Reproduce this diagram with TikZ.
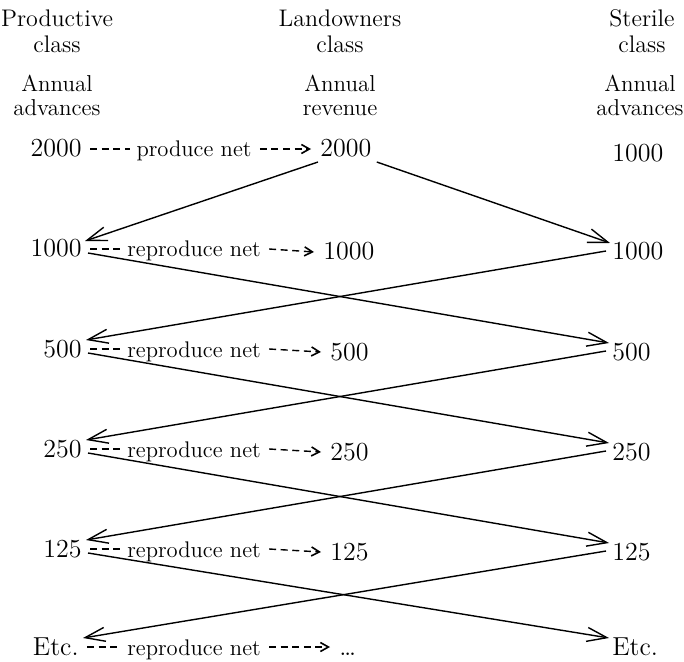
\documentclass[tikz,border=0pt]{standalone}
\usetikzlibrary{arrows.meta,calc}
\begin{document}
\begin{tikzpicture}[x=0.5pt,y=-0.5pt,
  hdr/.style={font=\fontsize{12}{14}\selectfont,inner sep=0pt,anchor=base},
  sub/.style={font=\fontsize{11.5}{14}\selectfont,inner sep=0pt,anchor=base},
  lab/.style={font=\fontsize{11.3}{14}\selectfont,inner sep=0pt,anchor=base},
  numl/.style={font=\fontsize{13}{15}\selectfont,inner sep=0pt,anchor=base east},
  numr/.style={font=\fontsize{13}{15}\selectfont,inner sep=0pt,anchor=base west},
  flow/.style={line width=0.7pt,-{Straight Barb[length=10pt,width=7pt,line width=0.7pt]}},
  dashl/.style={line width=0.7pt,dash pattern=on 3.5pt off 2.3pt},
  dasharr/.style={line width=0.7pt,dash pattern=on 3.5pt off 2.3pt,-{Straight Barb[length=4pt,width=4.5pt,line width=0.8pt]}}]
\useasboundingbox (0,0) rectangle (684,662);
% headers
\node[hdr] (h1a) at (57,27) {Productive};
\node[hdr] (h1b) at (57,53) {class};
\node[hdr] (h2a) at (340,27) {Landowners};
\node[hdr] (h2b) at (340,53) {class};
\node[hdr] (h3a) at (642,27) {Sterile};
\node[hdr] (h3b) at (642,53) {class};
\node[sub] (s1a) at (57,92) {Annual};
\node[sub] (s1b) at (57,116) {advances};
\node[sub] (s2a) at (340,92) {Annual};
\node[sub] (s2b) at (340,116) {revenue};
\node[sub] (s3a) at (640,92) {Annual};
\node[sub] (s3b) at (640,116) {advances};
% numbers
\node[numl] (l0) at (82,157) {2000};
\node[numr] (m0) at (320,157) {2000};
\node[numr] (r0) at (612,162) {1000};
\node[numl] (l1) at (82,257) {1000};
\node[numr] (m1) at (323,260) {1000};
\node[numr] (r1) at (612,260) {1000};
\node[numl] (l2) at (82,357) {500};
\node[numr] (m2) at (330,360) {500};
\node[numr] (r2) at (612,360) {500};
\node[numl] (l3) at (82,457) {250};
\node[numr] (m3) at (330,460) {250};
\node[numr] (r3) at (612,460) {250};
\node[numl] (l4) at (82,557) {125};
\node[numr] (m4) at (330,560) {125};
\node[numr] (r4) at (612,560) {125};
\node[numl] (l5) at (79,655) {Etc.};
\node[numr] (m5) at (339,655) {\dots};
\node[numr] (r5) at (612,655) {Etc.};
% labels
\node[lab] (p0) at (194,157) {produce net};
\node[lab] (p1) at (194,257) {reproduce net};
\node[lab] (p2) at (194,357) {reproduce net};
\node[lab] (p3) at (194,457) {reproduce net};
\node[lab] (p4) at (194,557) {reproduce net};
\node[lab] (p5) at (194,655) {reproduce net};
% dashed connectors
\foreach \i in {0,...,5}{
  \draw[dashl] ($(l\i.base east)+(8,-8)$) -- ($(p\i.base west)+(-6,-8)$);
  \draw[dasharr] ($(p\i.base east)+(8,-8)$) -- ($(m\i.base west)+(-9,-8)$);
}
% solid flows
\draw[flow] ($(m0.base west)+(-2,5)$) -- ($(l1.base east)+(3,-16)$);
\draw[flow] ($(m0.base east)+(5,5)$) -- ($(r1.base west)+(-2,-17)$);
\foreach \i/\j in {1/2,2/3,3/4,4/5}{
  \draw[flow] ($(l\i.base east)+(6,-4)$) -- ($(r\j.base west)+(-3,-17)$);
  \draw[flow] ($(r\i.base west)+(-6,-9)$) -- ($(l\j.base east)+(4,-17)$);
}
\end{tikzpicture}
\end{document}
